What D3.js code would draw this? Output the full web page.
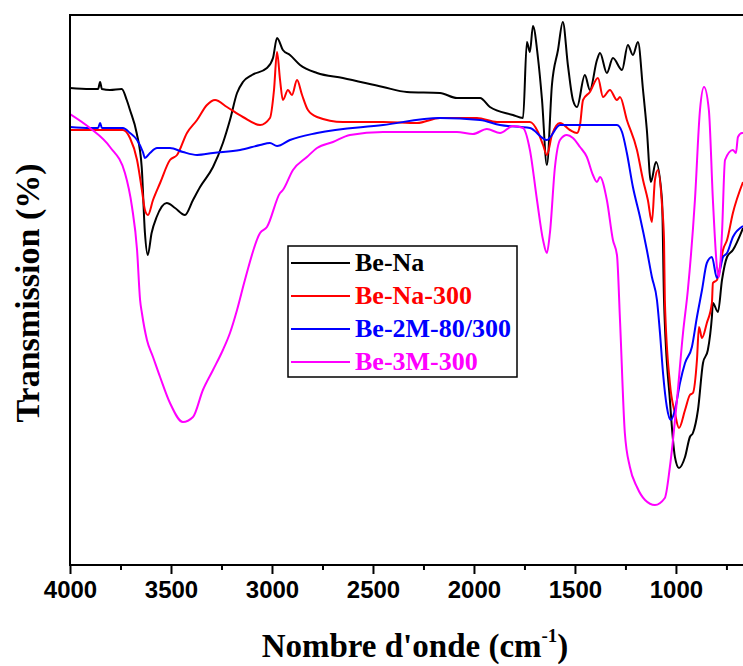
<!DOCTYPE html>
<html><head><meta charset="utf-8">
<script src="https://cdn.jsdelivr.net/npm/d3@7"></script>
<style>body{margin:0;background:#fff}svg{display:block}</style>
</head><body>
<svg id="c" width="743" height="666"></svg>
<script>
// ---- data: [wavenumber (cm-1), transmission (a.u. %)] ----
const beNa = [[4000,95.4],[3901,95.2],[3861,95.2],[3851,96.6],[3842,95.2],[3802,95],[3744,95.2],[3719,93],[3703,91],[3670,86.4],[3645,79.6],[3629,66.4],[3615,62],[3596,66.4],[3571,69.6],[3521,72.4],[3480,71.4],[3431,70],[3391,73],[3356,75.6],[3292,79.6],[3243,84.4],[3208,89],[3173,94.4],[3144,96.6],[3099,98],[3025,99.4],[2995,101.4],[2975,105.4],[2946,103],[2911,102],[2861,100],[2777,98.4],[2649,97.4],[2450,95.6],[2332,94.6],[2168,94.4],[2084,93.4],[1970,93.4],[1921,91.6],[1807,90],[1757,89.4],[1738,104.6],[1723,102.6],[1708,107.8],[1683,101.4],[1663,93],[1639,80],[1614,96],[1584,103],[1560,108.6],[1535,100],[1510,93],[1490,91.6],[1451,98],[1426,95],[1391,101],[1376,102.4],[1342,98.4],[1312,101.4],[1267,99],[1238,104],[1213,102],[1188,104.6],[1163,95],[1144,87],[1124,76.6],[1099,80.6],[1069,73],[1059,53],[1030,33],[1005,21.6],[985,19.4],[955,21.6],[931,25.6],[916,26.4],[891,31],[866,40.4],[842,43],[822,49.6],[817,52.4],[792,50.6],[772,57],[747,61.6],[718,63],[668,67.4]];
const beNa300 = [[4000,87],[3738,87],[3703,85.4],[3668,81],[3644,75],[3629,71],[3614,70],[3589,73],[3554,76.4],[3505,81],[3470,82],[3421,86.4],[3371,89],[3322,92],[3282,93],[3223,91.6],[3144,89.6],[3059,88],[3010,89.4],[2990,95],[2975,102.6],[2960,97],[2946,93],[2921,95],[2901,94],[2876,97],[2851,94],[2822,91],[2777,89.6],[2649,88.6],[2450,88.6],[2282,88.4],[2168,89.4],[1985,89.4],[1886,88.6],[1723,88.6],[1683,86.6],[1658,84],[1639,82],[1614,86],[1574,88.4],[1525,87],[1490,86.4],[1475,88],[1460,93],[1426,94.6],[1386,97.4],[1361,93.6],[1327,95],[1292,93],[1277,93.6],[1243,89],[1193,83],[1163,77],[1139,73],[1119,68.6],[1104,77],[1089,79],[1069,72],[1059,65],[1055,53],[1030,36.4],[1005,30.4],[985,27.4],[955,31],[931,34],[916,34.4],[896,41],[886,47.6],[871,45.4],[847,48.4],[822,52.4],[817,56.4],[797,57],[782,59.6],[767,63],[747,65],[718,70.4],[668,76.6]];
const be2M = [[4000,87.6],[3901,87.4],[3861,87.4],[3851,88.4],[3842,87.4],[3738,87.4],[3703,86.4],[3668,85],[3639,82.6],[3629,81.4],[3604,82.4],[3569,83.4],[3505,83.4],[3441,82.6],[3371,82],[3292,82.4],[3158,83],[3059,84],[3010,84.4],[2975,83.8],[2911,85],[2777,86.4],[2450,88],[2168,89.4],[1970,89],[1871,88],[1723,87.4],[1639,85],[1574,88],[1490,88],[1292,88],[1267,86.6],[1243,82.4],[1213,75.6],[1178,69.6],[1144,63],[1119,57.6],[1094,53],[1079,46.4],[1064,38.4],[1045,31.6],[1025,29],[1005,31],[980,36.4],[955,40.4],[921,43.6],[896,49.6],[871,55],[847,60.4],[822,61.6],[797,57.4],[782,59],[767,61.6],[747,62.4],[718,65.6],[668,67.8]];
const be3M = [[4000,90.2],[3901,87.4],[3802,83.6],[3728,78.4],[3693,71.6],[3668,63],[3653,53],[3644,50.4],[3619,45],[3589,41.6],[3554,37.6],[3505,32.4],[3441,28.6],[3391,29.6],[3342,35],[3292,39],[3243,43],[3208,46.4],[3173,51],[3134,57],[3059,66.4],[3025,67.6],[2960,74.4],[2946,75],[2896,79],[2827,81.6],[2777,83.4],[2698,84.6],[2614,86],[2450,86.6],[2084,86.6],[2005,86.2],[1936,87.2],[1871,86.4],[1807,87.8],[1757,87.4],[1723,83],[1688,73],[1658,65],[1639,62.4],[1624,66.4],[1599,79.6],[1574,85],[1540,86],[1510,85.4],[1475,83.6],[1441,81.6],[1411,78],[1391,76.6],[1376,77.6],[1342,73],[1312,65],[1292,62],[1277,49],[1253,26.4],[1228,19.6],[1193,15.6],[1153,13],[1104,12],[1055,13.4],[1030,19.6],[995,33],[965,46.4],[941,55],[906,73],[881,91],[861,95.6],[837,91],[817,73],[797,59.6],[787,57.6],[772,66.4],[757,81],[718,83],[703,82.4],[693,85.6],[673,86.4],[668,86.4]];
const seriesNames = ["Be-Na","Be-Na-300","Be-2M-80/300","Be-3M-300"];
const seriesData = [beNa, beNa300, be2M, be3M];
const seriesColors = ["#000000","#ff0000","#0000ff","#ff00ff"];
const xTicks = [4000,3500,3000,2500,2000,1500,1000];
const xMinorTicks = [3750,3250,2750,2250,1750,1250,750];

// ---- layout ----
const svg = d3.select("#c");
const L = 70, R = 743, T = 15, B = 565;
const x = d3.scaleLinear().domain([4000, 668]).range([L, R]);
const y = d3.scaleLinear().domain([0, 110]).range([B, T]);

svg.append("defs").append("clipPath").attr("id","clip")
  .append("rect").attr("x",L).attr("y",T).attr("width",R-L+5).attr("height",B-T);

const line = d3.line().x(d=>x(d[0])).y(d=>y(d[1])).curve(d3.curveMonotoneX);
const g = svg.append("g").attr("clip-path","url(#clip)");
seriesData.forEach((s,i)=>{
  g.append("path").datum(s).attr("d",line)
    .attr("fill","none").attr("stroke",seriesColors[i]).attr("stroke-width",2)
    .attr("stroke-linejoin","round");
});

// axes
const xAxis = svg.append("g").attr("transform",`translate(0,${B})`)
  .call(d3.axisBottom(x).tickValues(xTicks).tickSize(9).tickPadding(7).tickFormat(d3.format("d")));
xAxis.select(".domain").attr("stroke-width",2).attr("d",`M${L},0H${R}`);
xAxis.selectAll(".tick line").attr("stroke-width",2);
xAxis.selectAll(".tick text").attr("font-family","'Liberation Sans',Arial,sans-serif")
  .attr("font-weight","bold").attr("font-size",24).attr("fill","#000");
svg.append("g").attr("transform",`translate(0,${B})`)
  .call(d3.axisBottom(x).tickValues(xMinorTicks).tickSize(5).tickFormat(""))
  .call(a=>a.select(".domain").remove())
  .selectAll(".tick line").attr("stroke-width",2);

svg.append("line").attr("x1",L).attr("x2",L).attr("y1",T-1).attr("y2",B+1)
  .attr("stroke","#000").attr("stroke-width",2);
svg.append("line").attr("x1",L).attr("x2",R).attr("y1",T).attr("y2",T)
  .attr("stroke","#000").attr("stroke-width",2);

// axis titles
const xt = svg.append("text").attr("x",415).attr("y",657).attr("text-anchor","middle")
  .attr("font-family","'Liberation Serif','Times New Roman',serif").attr("font-weight","bold")
  .attr("font-size",33).attr("fill","#000");
xt.append("tspan").text("Nombre d'onde (cm");
xt.append("tspan").attr("dy",-15).attr("font-size",19).text("-1");
xt.append("tspan").attr("dy",15).text(")");

svg.append("text").attr("transform","translate(39,293) rotate(-90)").attr("text-anchor","middle")
  .attr("font-family","'Liberation Serif','Times New Roman',serif").attr("font-weight","bold")
  .attr("font-size",34).attr("fill","#000").text("Transmission (%)");

// legend
const lg = svg.append("g");
lg.append("rect").attr("x",288).attr("y",246).attr("width",229).attr("height",131)
  .attr("fill","#fff").attr("stroke","#000").attr("stroke-width",1.5);
seriesNames.forEach((n,i)=>{
  const yy = 263 + i*33;
  lg.append("line").attr("x1",291).attr("x2",350).attr("y1",yy).attr("y2",yy)
    .attr("stroke",seriesColors[i]).attr("stroke-width",2);
  lg.append("text").attr("x",355).attr("y",yy+8).text(n)
    .attr("font-family","'Liberation Serif','Times New Roman',serif").attr("font-weight","bold")
    .attr("font-size",26).attr("fill",seriesColors[i]);
});
</script>
</body></html>
